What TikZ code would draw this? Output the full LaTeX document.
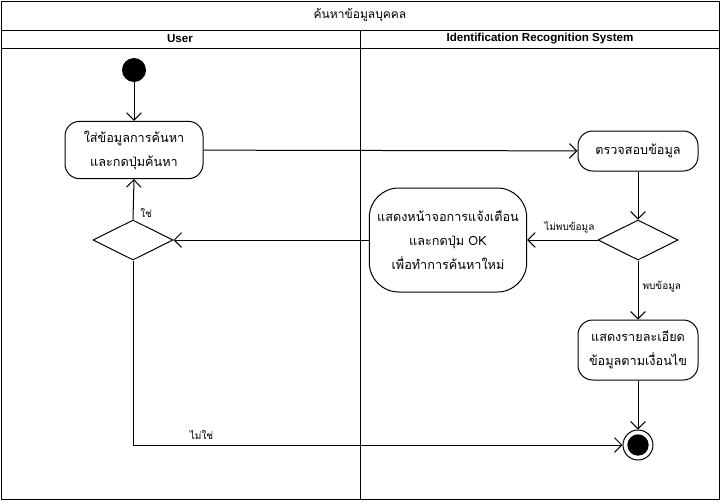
\documentclass[tikz,border=0pt]{standalone}
\usepackage{fontspec}
\setmainfont{Liberation Sans}
\newfontfamily\thaifont[Script=Thai]{Loma}
\usetikzlibrary{arrows.meta}
\usetikzlibrary{positioning}
\usetikzlibrary{shapes.geometric}
\tikzset{
     action/.style={
           rectangle,
           rounded corners=11pt,
           draw=black, line width=0.75pt,
           inner sep=2pt,
           font=\thaifont\fontsize{9.5}{18}\selectfont,
           align=center,
           text centered,
           },
     decision/.style={
           diamond,
           aspect=2,
           draw=black, line width=0.75pt,
           minimum width=60pt,
           minimum height=30pt,
           inner sep=0pt,
           },
     guard/.style={
           font=\thaifont\fontsize{7.5}{9}\selectfont,
           inner sep=1pt,
           },
     flow/.style={
           -{Straight Barb[length=5.5pt,width=11pt]},
           line width=0.75pt,
           },
     lane/.style={
           font=\bfseries\fontsize{8.7}{10}\selectfont,
           },
}

\begin{document}
\begin{tikzpicture}[x=0.75pt, y=-0.75pt]
	\useasboundingbox (0,0) rectangle (721,501);

	% swimlanes
	\draw[line width=0.75pt] (1,1) rectangle (719,499);
	\draw[line width=0.75pt] (1,30) -- (719,30);
	\draw[line width=0.75pt] (1,48) -- (719,48);
	\draw[line width=0.75pt] (360,30) -- (360,499);
	\node (title) at (360,15) {\thaifont\fontsize{9}{11}\selectfont ค้นหาข้อมูลบุคคล};
	\node[lane] (user) at (180,39) {User};
	\node[lane] (system) at (540,39) {Identification Recognition System};

	% user lane
	\node[circle, fill=black, minimum size=18pt, inner sep=0pt] (start) at (134,70) {};
	\node[action, minimum width=103.5pt, minimum height=43pt] (input) at (134,150) {
		ใส่ข้อมูลการค้นหา\\และกดปุ่มค้นหา
	};
	\node[decision] (again) at (133,240) {};

	% system lane
	\node[action, minimum width=90pt, minimum height=30pt] (check) at (638,151) {ตรวจสอบข้อมูล};
	\node[decision] (found) at (638,240) {};
	\node[action, rounded corners=22pt, minimum width=118pt, minimum height=78pt] (warn) at (448,240) {
		แสดงหน้าจอการแจ้งเตือน\\และกดปุ่ม OK\\เพื่อทำการค้นหาใหม่
	};
	\node[action, minimum width=90pt, minimum height=45pt] (detail) at (638,350) {
		แสดงรายละเอียด\\ข้อมูลตามเงื่อนไข
	};
	\node[circle, draw=black, line width=0.75pt, minimum size=22.5pt, inner sep=0pt] (stop) at (638,445) {};
	\node[circle, fill=black, minimum size=16pt, inner sep=0pt] (stopdot) at (stop) {};

	% flows
	\draw[flow] (start) -- (input);
	\draw[flow] (input) -- (check);
	\draw[flow] (check) -- (found);
	\draw[flow] (found.west) -- node[guard, pos=0.4, above=4pt] {ไม่พบข้อมูล} (warn.east);
	\draw[flow] (found.south) -- node[guard, pos=0.45, right=2pt] {พบข้อมูล} (detail.north);
	\draw[flow] (detail) -- (stop);
	\draw[flow] (warn.west) -- (again.east);
	\draw[flow] (again.north) -- node[guard, pos=0.17, right=4pt] {ใช่} (input.south);
	\draw[flow] (again.south) |- node[guard, pos=0.57, above=3pt] {ไม่ใช่} (stop.west);

\end{tikzpicture}
\end{document}
